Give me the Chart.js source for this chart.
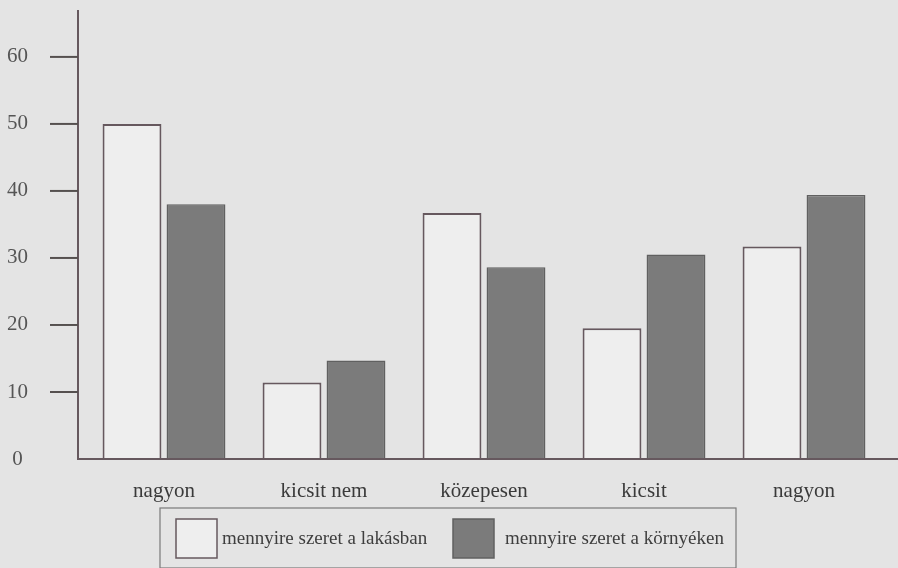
<!DOCTYPE html>
<html>
<head>
<meta charset="utf-8">
<script src="https://cdn.jsdelivr.net/npm/chart.js@4/dist/chart.umd.min.js"></script>
<style>
  html, body { margin: 0; padding: 0; background: #e4e4e4; }
  #wrap { width: 898px; height: 568px; }
</style>
</head>
<body>
<div id="wrap"><canvas id="chart" width="898" height="568"></canvas></div>
<script>
// data
const categories = ['nagyon', 'kicsit nem', 'közepesen', 'kicsit', 'nagyon'];
const seriesNames = ['mennyire szeret a lakásban', 'mennyire szeret a környéken'];
const lakasban = [50, 11.4, 36.7, 19.5, 31.7];
const kornyeken = [38, 14.7, 28.6, 30.5, 39.4];
const yTicks = [0, 10, 20, 30, 40, 50, 60];

const SERIF = '"Liberation Serif", "DejaVu Serif", serif';
const lineCol = '#66585e';

// background, hand-drawn looking axes with outside tick marks, and the boxed legend
const scanLook = {
    id: 'scanLook',
    beforeDraw(chart) {
        const { ctx, width, height } = chart;
        ctx.save();
        ctx.fillStyle = '#e4e4e4';
        ctx.fillRect(0, 0, width, height);
        ctx.restore();
    },
    afterDatasetsDraw(chart) {
        const { ctx, width, chartArea: { left, top, bottom }, scales: { y } } = chart;
        const axisX = left - 6;
        ctx.save();
        ctx.strokeStyle = lineCol;
        ctx.lineWidth = 2;
        ctx.beginPath();
        ctx.moveTo(axisX, top);
        ctx.lineTo(axisX, bottom + 1);
        ctx.moveTo(axisX, bottom);
        ctx.lineTo(width, bottom);
        ctx.stroke();

        //tick marks left of the axis
        ctx.strokeStyle = '#55504f';
        yTicks.forEach(v => {
            if (v === 0) return;
            const py = y.getPixelForValue(v);
            ctx.beginPath();
            ctx.moveTo(axisX - 28, py);
            ctx.lineTo(axisX, py);
            ctx.stroke();
        });

        // legend
        const lx = 160, ly = 508, lw = 576, lh = 60;
        ctx.lineWidth = 1.2;
        ctx.strokeStyle = '#7a7a7a';
        ctx.strokeRect(lx, ly, lw, lh);
        const items = [
            { x: 176, tx: 222, text: seriesNames[0], ds: chart.data.datasets[0] },
            { x: 453, tx: 505, text: seriesNames[1], ds: chart.data.datasets[1] }
        ];
        ctx.font = '19px ' + SERIF;
        ctx.textBaseline = 'middle';
        items.forEach(it => {
            ctx.fillStyle = it.ds.backgroundColor;
            ctx.fillRect(it.x, ly + 11, 41, 39);
            ctx.strokeStyle = it.ds.borderColor;
            ctx.lineWidth = 1.5;
            ctx.strokeRect(it.x, ly + 11, 41, 39);
            ctx.fillStyle = '#3e3e3e';
            ctx.fillText(it.text, it.tx, ly + 31);
        });
        ctx.restore();
    }
};

new Chart(document.getElementById('chart'), {
    type: 'bar',
    data: {
        labels: categories,
        datasets: [
            {
                label: seriesNames[0],
                data: lakasban,
                backgroundColor: '#eeeeee',
                borderColor: '#66585e',
                borderWidth: 2,
                borderSkipped: 'bottom'
            },
            {
                label: seriesNames[1],
                data: kornyeken,
                backgroundColor: '#7b7b7b',
                borderColor: '#606060',
                borderWidth: 1.5,
                borderSkipped: 'bottom'
            }
        ]
    },
    options: {
        responsive: false,
        animation: false,
        categoryPercentage: 0.8,
        barPercentage: 0.92,
        layout: { padding: { top: 10, right: 14, left: 0, bottom: 0 } },
        plugins: {
            legend: { display: false },
            tooltip: { enabled: false }
        },
        scales: {
            x: {
                grid: { display: false },
                border: { display: false },
                ticks: {
                    color: '#3a3a3a',
                    font: { family: SERIF, size: 21 },
                    padding: 12,
                    maxRotation: 0
                },
                afterFit(scale) {
                    scale.height = 109;
                    scale.paddingLeft = 0;
                    scale.paddingRight = 0;
                }
            },
            y: {
                min: 0,
                max: 67,
                grid: { display: false },
                border: { display: false },
                ticks: {
                    stepSize: 10,
                    includeBounds: false,
                    color: '#555555',
                    font: { family: SERIF, size: 21 },
                    crossAlign: 'center',
                    padding: 48
                },
                afterFit(scale) {
                    scale.width = 84;
                    scale.paddingTop = 0;
                    scale.paddingBottom = 0;
                }
            }
        }
    },
    plugins: [scanLook]
});
</script>
</body>
</html>
